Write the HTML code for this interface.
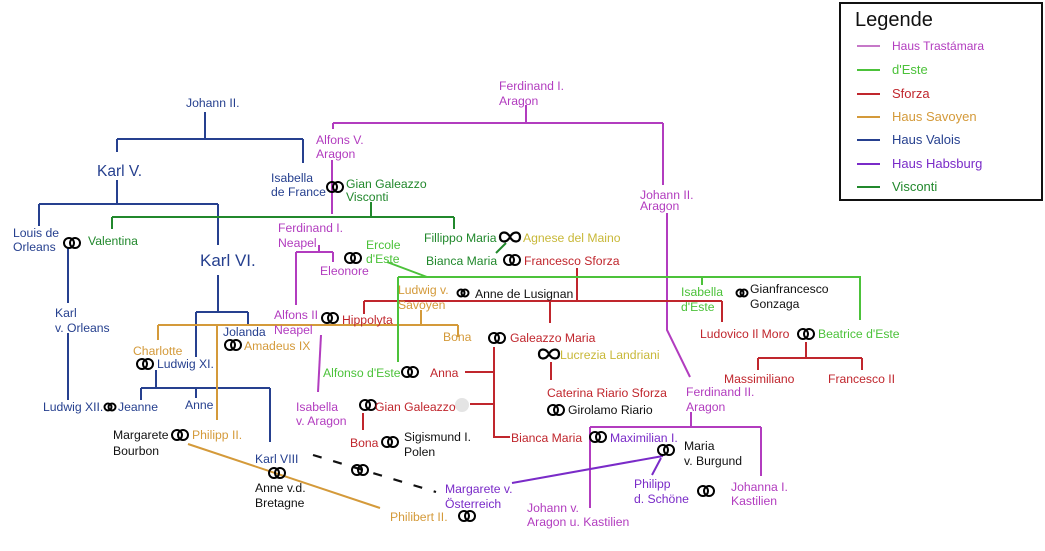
<!DOCTYPE html>
<html><head><meta charset="utf-8"><style>
html,body{margin:0;padding:0;background:#fff;}
svg{display:block;}
text{font-family:"Liberation Sans",sans-serif;font-size:12.2px;}
.V{fill:#26408f}.T{fill:#b23cbf}.E{fill:#4cc23a}.S{fill:#c0262d}.O{fill:#d49a3a}.H{fill:#7a2bc8}.G{fill:#21882c}.K{fill:#111}.Y{fill:#c8b838}
</style></head><body>
<svg width="1045" height="551" viewBox="0 0 1045 551" xmlns="http://www.w3.org/2000/svg">
<defs>
<g id="r"><circle cx="-3" cy="0" r="5" fill="none" stroke="#000" stroke-width="2"/><circle cx="3" cy="0" r="5" fill="none" stroke="#000" stroke-width="2"/></g>
<g id="rs"><circle cx="-2" cy="0" r="3.5" fill="none" stroke="#000" stroke-width="2"/><circle cx="2" cy="0" r="3.5" fill="none" stroke="#000" stroke-width="2"/></g>
<g id="inf"><path d="M0,0 C-3,-6 -10,-6 -10,0 C-10,6 -3,6 0,0 C3,-6 10,-6 10,0 C10,6 3,6 0,0Z" fill="none" stroke="#000" stroke-width="2.2"/></g>
</defs>
<g fill="none" stroke-width="2">
<g stroke="#26408f">
<path d="M205,112V139M117,139H303M117,139V152M303,139V163"/>
<path d="M117,180V204M39,204H218M39,204V226M218,204V245"/>
<path d="M68,247V303M68,333V400"/>
<path d="M218,275V312M196,312H248M196,312V357M248,312V325"/>
<path d="M156,370V388M141,388H270M141,388V400M196,388V398M270,388V442"/>
</g>
<g stroke="#21882c">
<path d="M371,202V217M112,217H454M112,217V229M454,217V229M506,243L496,253"/>
</g>
<g stroke="#b23cbf">
<path d="M526,105V123M333,123H663M333,123V129M663,123V185M332,160V214"/>
<path d="M319,245V252M296,252H333M296,252V305M333,252V262"/>
<path d="M321,335L318,392"/>
<path d="M667,213V330L690,377"/>
<path d="M691,412V427M590,427H761M590,427V508M761,427V476"/>
</g>
<g stroke="#d49a3a">
<path d="M158,325H458M158,325V340M217,325V420M458,325V337M421,310V325"/>
<path d="M188,444L380,508"/>
</g>
<g stroke="#c0262d">
<path d="M577,268V301M364,301H722M364,301V314M550,301V323M722,301V322"/>
<path d="M806,342V358M758,358H862M758,358V370M862,358V370"/>
<path d="M494,347V437H510M465,372H494M470,404H494M551,362V380M363,413V430"/>
</g>
<g stroke="#4cc23a">
<path d="M387,262L427,277M398,277H860V320M398,277V362M702,277V285"/>
</g>
<g stroke="#7a2bc8">
<path d="M512,483L663,456M661,458L652,475"/>
</g>
<path d="M313,455L436,492" stroke="#111" stroke-width="2.2" stroke-dasharray="9,12"/>
</g>
<circle cx="462" cy="405" r="7" fill="#e4e4e4"/>
<use href="#r" x="72" y="243"/><use href="#r" x="335" y="187"/><use href="#r" x="353" y="258"/>
<use href="#r" x="512" y="260"/><use href="#inf" x="510" y="237"/><use href="#rs" x="463" y="293"/>
<use href="#r" x="330" y="318"/><use href="#r" x="145" y="364"/><use href="#r" x="233" y="345"/>
<use href="#rs" x="110" y="407"/><use href="#r" x="180" y="435"/><use href="#r" x="277" y="473"/>
<use href="#r" x="360" y="470"/><use href="#r" x="467" y="516"/><use href="#r" x="497" y="338"/>
<use href="#inf" x="549" y="354"/><use href="#r" x="410" y="372"/><use href="#r" x="368" y="405"/>
<use href="#r" x="390" y="442"/><use href="#r" x="556" y="410"/><use href="#r" x="598" y="437"/>
<use href="#r" x="666" y="450"/><use href="#r" x="706" y="491"/><use href="#rs" x="742" y="293"/>
<use href="#r" x="806" y="334"/>
<text class="V" x="186" y="107">Johann II.</text>
<text class="V" x="97" y="176" style="font-size:15.5px">Karl V.</text>
<text class="V" x="200" y="266" style="font-size:17px">Karl VI.</text>
<text class="V" x="13" y="237">Louis de</text><text class="V" x="13" y="251">Orleans</text>
<text class="G" x="88" y="245">Valentina</text>
<text class="V" x="55" y="317">Karl</text><text class="V" x="55" y="332">v. Orleans</text>
<text class="V" x="43" y="411">Ludwig XII.</text><text class="V" x="118" y="411">Jeanne</text>
<text class="O" x="133" y="355">Charlotte</text><text class="V" x="157" y="368">Ludwig XI.</text>
<text class="V" x="185" y="409">Anne</text>
<text class="V" x="223" y="336">Jolanda</text><text class="O" x="244" y="350">Amadeus IX</text>
<text class="K" x="113" y="439">Margarete</text><text class="K" x="113" y="455">Bourbon</text>
<text class="O" x="192" y="439">Philipp II.</text>
<text class="V" x="255" y="463">Karl VIII</text>
<text class="K" x="255" y="492">Anne v.d.</text><text class="K" x="255" y="507">Bretagne</text>
<text class="O" x="390" y="521">Philibert II.</text>
<text class="H" x="445" y="493">Margarete v.</text><text class="H" x="445" y="508">Österreich</text>
<text class="V" x="271" y="182">Isabella</text><text class="V" x="271" y="196">de France</text>
<text class="G" x="346" y="188">Gian Galeazzo</text><text class="G" x="346" y="201">Visconti</text>
<text class="T" x="499" y="90">Ferdinand I.</text><text class="T" x="499" y="105">Aragon</text>
<text class="T" x="316" y="144">Alfons V.</text><text class="T" x="316" y="158">Aragon</text>
<text class="T" x="640" y="199">Johann II.</text><text class="T" x="640" y="210">Aragon</text>
<text class="T" x="278" y="232">Ferdinand I.</text><text class="T" x="278" y="247">Neapel</text>
<text class="T" x="320" y="275">Eleonore</text>
<text class="E" x="366" y="249">Ercole</text><text class="E" x="366" y="263">d'Este</text>
<text class="G" x="424" y="242">Fillippo Maria</text><text class="Y" x="523" y="242">Agnese del Maino</text>
<text class="G" x="426" y="265">Bianca Maria</text><text class="S" x="524" y="265">Francesco Sforza</text>
<text class="O" x="398" y="294">Ludwig v.</text><text class="O" x="398" y="309">Savoyen</text>
<text class="K" x="475" y="298">Anne de Lusignan</text>
<text class="T" x="274" y="319">Alfons II</text><text class="T" x="274" y="334">Neapel</text>
<text class="S" x="342" y="324">Hippolyta</text>
<text class="O" x="443" y="341">Bona</text><text class="S" x="510" y="342">Galeazzo Maria</text>
<text class="Y" x="560" y="359">Lucrezia Landriani</text>
<text class="E" x="323" y="377">Alfonso d'Este</text><text class="S" x="430" y="377">Anna</text>
<text class="T" x="296" y="411">Isabella</text><text class="T" x="296" y="425">v. Aragon</text>
<text class="S" x="375" y="411">Gian Galeazzo</text>
<text class="S" x="350" y="447">Bona</text>
<text class="K" x="404" y="441">Sigismund I.</text><text class="K" x="404" y="456">Polen</text>
<text class="S" x="547" y="397">Caterina Riario Sforza</text>
<text class="K" x="568" y="414">Girolamo Riario</text>
<text class="S" x="511" y="442">Bianca Maria</text><text class="H" x="610" y="442">Maximilian I.</text>
<text class="K" x="684" y="450">Maria</text><text class="K" x="684" y="465">v. Burgund</text>
<text class="H" x="634" y="488">Philipp</text><text class="H" x="634" y="503">d. Schöne</text>
<text class="T" x="731" y="491">Johanna I.</text><text class="T" x="731" y="505">Kastilien</text>
<text class="T" x="527" y="512">Johann v.</text><text class="T" x="527" y="526">Aragon u. Kastilien</text>
<text class="T" x="686" y="396">Ferdinand II.</text><text class="T" x="686" y="411">Aragon</text>
<text class="E" x="681" y="296">Isabella</text><text class="E" x="681" y="311">d'Este</text>
<text class="K" x="750" y="293">Gianfrancesco</text><text class="K" x="750" y="308">Gonzaga</text>
<text class="S" x="700" y="338">Ludovico Il Moro</text><text class="E" x="818" y="338">Beatrice d'Este</text>
<text class="S" x="724" y="383">Massimiliano</text><text class="S" x="828" y="383">Francesco II</text>
<rect x="840" y="3" width="202" height="197" fill="none" stroke="#111" stroke-width="2"/>
<text x="855" y="26" style="font-size:20px" class="K">Legende</text>
<g stroke-width="2">
<line x1="857" y1="46" x2="880" y2="46" stroke="#c678c8"/>
<line x1="857" y1="70" x2="880" y2="70" stroke="#4cc23a"/>
<line x1="857" y1="94" x2="880" y2="94" stroke="#c0262d"/>
<line x1="857" y1="117" x2="880" y2="117" stroke="#d49a3a"/>
<line x1="857" y1="140" x2="880" y2="140" stroke="#26408f"/>
<line x1="857" y1="164" x2="880" y2="164" stroke="#7a2bc8"/>
<line x1="857" y1="187" x2="880" y2="187" stroke="#21882c"/>
</g>
<text class="T" x="892" y="50" style="font-size:12px">Haus Trastámara</text>
<text class="E" x="892" y="74" style="font-size:13px">d'Este</text>
<text class="S" x="892" y="98" style="font-size:13px">Sforza</text>
<text class="O" x="892" y="121" style="font-size:13px">Haus Savoyen</text>
<text class="V" x="892" y="144" style="font-size:13px">Haus Valois</text>
<text class="H" x="892" y="168" style="font-size:13px">Haus Habsburg</text>
<text class="G" x="892" y="191" style="font-size:13px">Visconti</text>
</svg>
</body></html>
